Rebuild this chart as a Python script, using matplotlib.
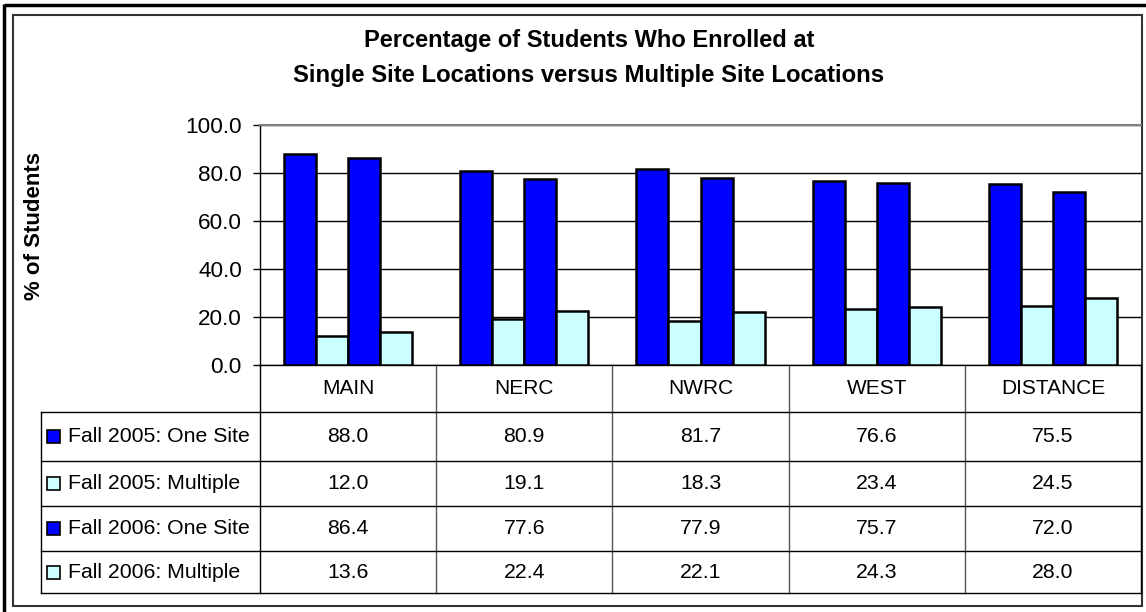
import numpy as np
import matplotlib.pyplot as plt
from matplotlib.ticker import FormatStrFormatter
from matplotlib.transforms import blended_transform_factory
from matplotlib.patches import Rectangle

plt.rcParams['font.family'] = ['Liberation Sans', 'DejaVu Sans']

# data
campuses = ["MAIN", "NERC", "NWRC", "WEST", "DISTANCE"]
series_names = ["Fall 2005: One Site", "Fall 2005: Multiple",
                "Fall 2006: One Site", "Fall 2006: Multiple"]
fall05_one = [88.0, 80.9, 81.7, 76.6, 75.5]
fall05_multi = [12.0, 19.1, 18.3, 23.4, 24.5]
fall06_one = [86.4, 77.6, 77.9, 75.7, 72.0]
fall06_multi = [13.6, 22.4, 22.1, 24.3, 28.0]
yticks = [0, 20, 40, 60, 80, 100]

series = [fall05_one, fall05_multi, fall06_one, fall06_multi]
colors = ["#0000FF", "#CCFFFF", "#0000FF", "#CCFFFF"]

W, H = 1146, 612
fig = plt.figure(figsize=(W / 100, H / 100), dpi=100)

# overlay in pixel coords for frame, title and table
ov = fig.add_axes([0, 0, 1, 1])
ov.set_xlim(0, W)
ov.set_ylim(H, 0)
ov.axis('off')

# frames
ov.plot([4, 4], [4, H], color='black', lw=2.5, solid_capstyle='butt')
ov.plot([4, W], [5, 5], color='black', lw=2.5, solid_capstyle='butt')
ov.add_patch(Rectangle((13, 15), 1142 - 13, 606 - 15, fill=False,
                       edgecolor='#333333', lw=1.5))

# title
ov.text(589, 47, "Percentage of Students Who Enrolled at", ha='center',
        va='baseline', fontsize=17, fontweight='bold')
ov.text(589, 82, "Single Site Locations versus Multiple Site Locations",
        ha='center', va='baseline', fontsize=17.2, fontweight='bold')

# main plot area
left, right, top, bottom = 260, 1141, 125, 365
ax = fig.add_axes([left / W, 1 - bottom / H, (right - left) / W, (bottom - top) / H])
x = np.arange(len(campuses))
w = 1 / 5.5
for k, vals in enumerate(series):
    ax.bar(x + (k - 1.5) * w, vals, width=w, color=colors[k],
           edgecolor='black', lw=1.8, zorder=3)

ax.set_xlim(-0.5, len(campuses) - 0.5)
ax.set_ylim(0, 100)
ax.set_yticks(yticks)
ax.yaxis.set_major_formatter(FormatStrFormatter('%.1f'))
ax.set_xticks([])
ax.tick_params(axis='y', direction='out', length=5, width=1, pad=8,
               labelsize=16.2, color='black')
ax.set_axisbelow(True)
ax.grid(axis='y', color='black', lw=1)
ax.spines['right'].set_visible(False)
ax.spines['top'].set_color('#808080')
ax.spines['top'].set_linewidth(1.5)
ax.spines['left'].set_linewidth(1)
ax.spines['bottom'].set_linewidth(1)

ov.text(35, 226, "% of Students", rotation=90, ha='center', va='center',
        fontsize=16, fontweight='bold')

# data table
trans = blended_transform_factory(ax.transData, ov.transData)
row_lines = [412, 461, 506, 551, 593]
tab_left = 41
for b in np.arange(len(campuses) + 1) - 0.5:
    c = 'black' if b in (-0.5, len(campuses) - 0.5) else '#555555'
    ov.plot([b, b], [bottom, row_lines[-1]], transform=trans, color=c, lw=1)
ov.plot([tab_left, tab_left], [row_lines[0], row_lines[-1]], color='black', lw=1)
for y in row_lines:
    ov.plot([tab_left, right], [y, y], color='black', lw=1)

for i, name in enumerate(campuses):
    ov.text(i, (bottom + row_lines[0]) / 2, name, transform=trans,
            ha='center', va='center', fontsize=15)

for k, vals in enumerate(series):
    yc = (row_lines[k] + row_lines[k + 1]) / 2
    ov.add_patch(Rectangle((47, yc - 6.5), 13, 13, facecolor=colors[k],
                           edgecolor='black', lw=1.2))
    ov.text(68, yc, series_names[k], ha='left', va='center', fontsize=15.3)
    for i, v in enumerate(vals):
        ov.text(i, yc, "%.1f" % v, transform=trans, ha='center',
                va='center', fontsize=15.3)

fig.savefig('out.png', dpi=100)
